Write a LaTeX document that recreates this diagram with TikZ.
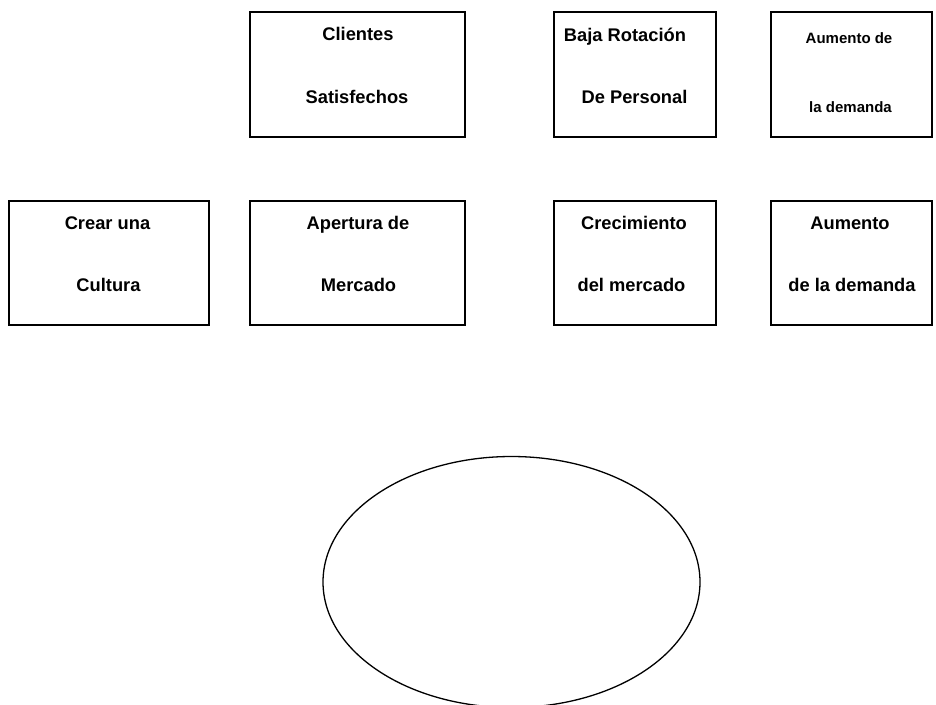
\documentclass[tikz,border=0pt]{standalone}
\usepackage{fontspec}
\setmainfont{Liberation Sans}
\usetikzlibrary{shapes.geometric}
\begin{document}
\begin{tikzpicture}[x=1pt,y=-1pt,
  box/.style={draw=black,line width=2pt,rectangle,inner sep=0pt,outer sep=0pt,minimum height=125pt},
  lbl/.style={anchor=base,inner sep=0pt,font=\bfseries\fontsize{18.3}{22}\selectfont},
  slbl/.style={anchor=base,inner sep=0pt,font=\bfseries\fontsize{15}{18}\selectfont}]
\useasboundingbox (0,0) rectangle (936,704);
\fill[white] (0,0) rectangle (936,704);
\clip (0,0) rectangle (936,704);
% top row
\node[box,minimum width=215pt] (b1) at (357.5,74.5) {};
\node[box,minimum width=162pt] (b2) at (635,74.5) {};
\node[box,minimum width=161pt] (b3) at (851.5,74.5) {};
% second row
\node[box,minimum width=200pt,minimum height=124pt] (c1) at (109,263) {};
\node[box,minimum width=215pt,minimum height=124pt] (c2) at (357.5,263) {};
\node[box,minimum width=162pt,minimum height=124pt] (c3) at (635,263) {};
\node[box,minimum width=161pt,minimum height=124pt] (c4) at (851.5,263) {};
% texts
\node[lbl] (t1a) at (358,40) {Clientes};
\node[lbl] (t1b) at (357,103) {Satisfechos};
\node[lbl] (t2a) at (625,41) {Baja Rotación};
\node[lbl] (t2b) at (634.5,103) {De Personal};
\node[slbl] (t3a) at (849,43) {Aumento de};
\node[slbl] (t3b) at (850.5,112) {la demanda};
\node[lbl] (u1a) at (107.5,229) {Crear una};
\node[lbl] (u1b) at (108.5,291) {Cultura};
\node[lbl] (u2a) at (358,229) {Apertura de};
\node[lbl] (u2b) at (358.5,291) {Mercado};
\node[lbl] (u3a) at (634,229) {Crecimiento};
\node[lbl] (u3b) at (631.5,291) {del mercado};
\node[lbl] (u4a) at (850,229) {Aumento};
\node[lbl] (u4b) at (852,291) {de la demanda};
% ellipse
\node[draw=black,line width=1.3pt,ellipse,inner sep=0pt,outer sep=0pt,minimum width=377pt,minimum height=251pt] (el) at (511.5,582) {};
\end{tikzpicture}
\end{document}
